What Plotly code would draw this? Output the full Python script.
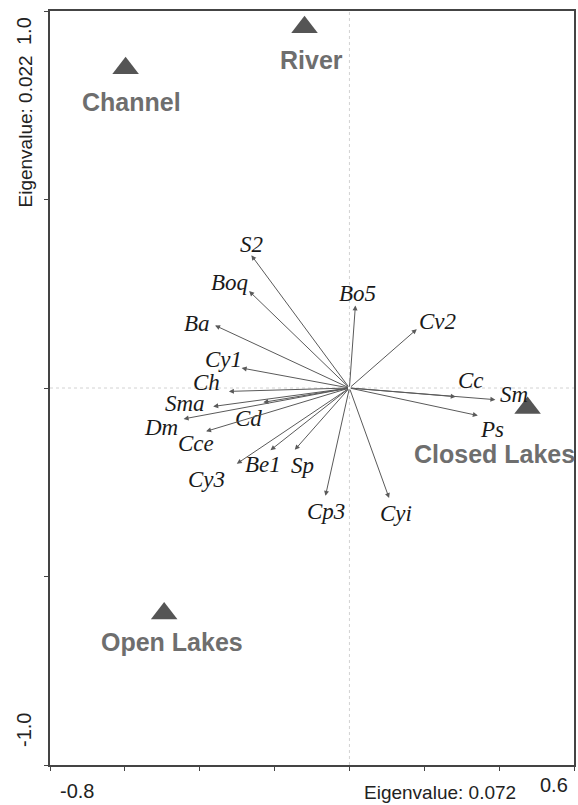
import plotly.graph_objects as go

# ---- data ----
species = ["S2", "Boq", "Ba", "Cy1", "Ch", "Sma", "Cd", "Dm", "Cce", "Be1", "Sp",
           "Cy3", "Cp3", "Cyi", "Bo5", "Cv2", "Cc", "Sm", "Ps"]
species_x = [-0.262, -0.268, -0.359, -0.288, -0.322, -0.364, -0.230, -0.443, -0.383,
             -0.211, -0.146, -0.301, -0.064, 0.106, 0.016, 0.180, 0.284, 0.390, 0.343]
species_y = [0.352, 0.257, 0.166, 0.053, -0.009, -0.049, -0.038, -0.082, -0.115,
             -0.165, -0.164, -0.201, -0.286, -0.292, 0.219, 0.156, -0.023, -0.031, -0.073]

sites = ["Channel", "River", "Closed Lakes", "Open Lakes"]
sites_x = [-0.598, -0.120, 0.476, -0.495]
sites_y = [0.848, 0.957, -0.053, -0.598]

x_ticks = [-0.8, -0.6, -0.4, -0.2, 0.0, 0.2, 0.4, 0.6]
y_ticks = [-1.0, -0.5, 0.0, 0.5, 1.0]
x_tick_labels = {-0.8: "-0.8", 0.6: "0.6"}
y_tick_labels = {1.0: "1.0", -1.0: "-1.0"}
x_title = "Eigenvalue: 0.072"
y_title = "Eigenvalue: 0.022"

# ---- label offsets (pixels) ----
species_offsets = {
    "S2": (0, 11), "Boq": (-20, 9), "Ba": (-18, 2), "Cy1": (-18, 9), "Ch": (-22, 9),
    "Sma": (-28, 3), "Cd": (-15, -16), "Dm": (-23, -9), "Cce": (-10, -12),
    "Be1": (-7, -14), "Sp": (8, -16), "Cy3": (-30, -16), "Cp3": (1, -16),
    "Cyi": (7, -15), "Bo5": (2, 12), "Cv2": (21, 8), "Cc": (15, 16), "Sm": (19, 5),
    "Ps": (14, -14),
}
site_offsets = {"Channel": (6, -34), "River": (7, -33), "Closed Lakes": (-33, -46),
                "Open Lakes": (8, -29)}

fig = go.Figure()

# dotted cross lines
fig.add_shape(type="line", x0=0, x1=0, y0=-1, y1=1, xref="x", yref="y",
              line=dict(color="#d2d2d2", width=1, dash="dot"), layer="below")
fig.add_shape(type="line", x0=-0.8, x1=0.6, y0=0, y1=0, xref="x", yref="y",
              line=dict(color="#d2d2d2", width=1, dash="dot"), layer="below")

# species arrows
for name, sx, sy in zip(species, species_x, species_y):
    fig.add_annotation(x=sx, y=sy, ax=0, ay=0, xref="x", yref="y", axref="x", ayref="y",
                       text="", showarrow=True, arrowhead=2, arrowsize=1.0,
                       arrowwidth=1, arrowcolor="#5a5a5a", standoff=0, startstandoff=0)
    dx, dy = species_offsets[name]
    fig.add_annotation(x=sx, y=sy, xref="x", yref="y", text="<i>%s</i>" % name,
                       showarrow=False, xshift=dx, yshift=dy,
                       font=dict(family="Liberation Serif, Times New Roman, serif",
                                 size=23, color="#1a1a1a"))

# sites
fig.add_trace(go.Scatter(x=sites_x, y=sites_y, mode="markers",
                         marker=dict(symbol="triangle-up", size=23, color="#555555"),
                         hoverinfo="skip", showlegend=False))
for name, sx, sy in zip(sites, sites_x, sites_y):
    dx, dy = site_offsets[name]
    fig.add_annotation(x=sx, y=sy, xref="x", yref="y", text="<b>%s</b>" % name,
                       showarrow=False, xshift=dx, yshift=dy,
                       font=dict(family="Liberation Sans, Arial, sans-serif",
                                 size=25, color="#6e6e6e"))

# tick labels and axis titles
tick_font = dict(family="Liberation Sans, Arial, sans-serif", size=20, color="#222222")
title_font = dict(family="Liberation Sans, Arial, sans-serif", size=19, color="#222222")
for v, lab in x_tick_labels.items():
    fig.add_annotation(x=v, y=0, xref="x", yref="paper", text=lab, showarrow=False,
                       yanchor="top", xshift=(27 if v < 0 else -20),
                       yshift=(-13 if v < 0 else -7), font=tick_font)
for v, lab in y_tick_labels.items():
    fig.add_annotation(x=0, y=v, xref="paper", yref="y", text=lab, showarrow=False,
                       textangle=-90, xanchor="right",
                       xshift=-13, yshift=(-20 if v > 0 else 35), font=tick_font)
fig.add_annotation(x=0.6, y=0, xref="x", yref="paper", text=x_title, showarrow=False,
                   yanchor="top", xanchor="right", xshift=-56, yshift=-15, font=title_font)
fig.add_annotation(x=0, y=1.0, xref="paper", yref="y", text=y_title, showarrow=False,
                   textangle=-90, xanchor="right", yanchor="top", xshift=-13, yshift=-42,
                   font=title_font)

axis_common = dict(showgrid=False, zeroline=False, showline=True, mirror=True,
                   linecolor="#444444", linewidth=2, ticks="outside", ticklen=4,
                   tickcolor="#444444", showticklabels=False)
fig.update_xaxes(range=[-0.8, 0.6], tickvals=x_ticks, **axis_common)
fig.update_yaxes(range=[-1.0, 1.0], tickvals=y_ticks, **axis_common)

fig.update_layout(width=578, height=805, margin=dict(l=50, r=2, t=11, b=40),
                  plot_bgcolor="white", paper_bgcolor="white", showlegend=False)

fig.write_html("out.html")
